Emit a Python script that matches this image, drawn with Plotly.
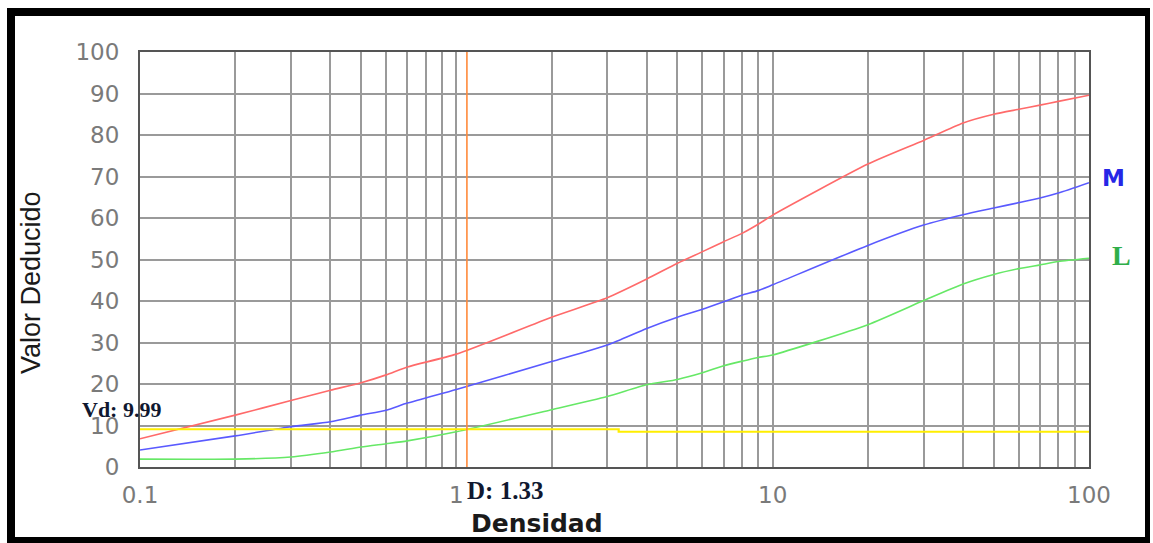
import plotly.graph_objects as go

# ---- data ----
densidad = [0.1, 0.2, 0.3, 0.4, 0.5, 0.6, 0.7, 1, 2, 3, 4, 5, 6, 7, 8, 9, 10,
            20, 30, 40, 50, 60, 70, 80, 100]
high_H = [6.8, 12.5, 16.0, 18.5, 20.3, 22.2, 24.1, 27.2, 36.1, 40.8, 45.3, 49.1,
          51.9, 54.3, 56.3, 58.5, 60.7, 73.0, 78.7, 82.9, 85.0, 86.2, 87.2, 88.1, 89.6]
medium_M = [4.1, 7.5, 9.7, 10.9, 12.5, 13.7, 15.4, 18.7, 25.4, 29.4, 33.4, 36.1,
            38.0, 39.8, 41.4, 42.5, 43.9, 53.4, 58.3, 60.8, 62.4, 63.7, 64.8, 66.0, 68.5]
low_L = [1.9, 1.9, 2.4, 3.6, 4.8, 5.6, 6.3, 8.5, 13.8, 17.0, 19.8, 21.1,
         22.7, 24.4, 25.5, 26.4, 27.0, 34.3, 40.1, 44.1, 46.4, 47.8, 48.7, 49.5, 50.3]

vd_x = [0.1, 3.26, 3.26, 100]
vd_y = [9.1, 9.1, 8.5, 8.5]
d_x = [1.08, 1.08]
d_y = [0, 100]

vd_label = "Vd: 9.99"
d_label = "D: 1.33"

x_major = [0.1, 1, 10, 100]
x_major_text = ["0.1", "1", "10", "100"]
y_ticks = list(range(0, 101, 10))

# ---- layout geometry ----
W, H = 1153, 543
L, R, T, B = 140, 1089, 52, 467


def px(x):
    return (x - L) / (R - L)


def py(y):
    return (B - y) / (B - T)


x_tickvals = []
x_ticktext = []
for dec in [0.1, 1, 10]:
    for k in range(1, 10):
        v = round(dec * k, 6)
        x_tickvals.append(v)
        x_ticktext.append(x_major_text[x_major.index(v)] if v in x_major else "")
x_tickvals.append(100)
x_ticktext.append("100")

fig = go.Figure()
fig.add_trace(go.Scatter(x=densidad, y=high_H, mode="lines",
                         line=dict(color="#ff6a6a", width=1.6, shape="spline", smoothing=0.6),
                         name="H"))
fig.add_trace(go.Scatter(x=densidad, y=medium_M, mode="lines",
                         line=dict(color="#5a5aff", width=1.6, shape="spline", smoothing=0.6),
                         name="M"))
fig.add_trace(go.Scatter(x=densidad, y=low_L, mode="lines",
                         line=dict(color="#66e866", width=1.6, shape="spline", smoothing=0.6),
                         name="L"))
fig.add_trace(go.Scatter(x=vd_x, y=vd_y, mode="lines",
                         line=dict(color="#ffee00", width=2.2), name="Vd"))
fig.add_trace(go.Scatter(x=d_x, y=d_y, mode="lines",
                         line=dict(color="#ff8a3a", width=1.6), name="D"))

fig.update_xaxes(type="log", range=[-1, 2], tickvals=x_tickvals, ticktext=x_ticktext,
                 showgrid=True, gridcolor="#9a9a9a", gridwidth=2,
                 showline=True, linecolor="#555555", linewidth=2, mirror=True,
                 ticks="", ticklabelstandoff=6,
                 tickfont=dict(family="DejaVu Sans", size=23, color="#7a7a7a"),
                 zeroline=False)
fig.update_yaxes(range=[0, 100], tickvals=y_ticks,
                 showgrid=True, gridcolor="#9a9a9a", gridwidth=2,
                 showline=True, linecolor="#555555", linewidth=2, mirror=True,
                 ticks="", ticklabelstandoff=14,
                 tickfont=dict(family="DejaVu Sans", size=23, color="#7a7a7a"),
                 zeroline=False)

annotations = [
    dict(text="<b>Densidad</b>", x=px(537), y=py(523), xref="paper", yref="paper",
         showarrow=False, font=dict(family="DejaVu Sans", size=25, color="#1a1a1a"),
         xanchor="center", yanchor="middle"),
    dict(text="Valor Deducido", x=px(31), y=py(283), xref="paper", yref="paper",
         showarrow=False, textangle=-90,
         font=dict(family="Liberation Sans Narrow, Liberation Sans", size=27, color="#1a1a1a"),
         xanchor="center", yanchor="middle"),
    dict(text="<b>" + vd_label + "</b>", x=px(80), y=py(409), xref="paper", yref="paper",
         showarrow=False, font=dict(family="Liberation Serif", size=22, color="#101830"),
         xanchor="left", yanchor="middle"),
    dict(text="<b>" + d_label + "</b>", x=px(465), y=py(490), xref="paper", yref="paper",
         showarrow=False, font=dict(family="Liberation Serif", size=25, color="#101830"),
         xanchor="left", yanchor="middle"),
    dict(text="<b>M</b>", x=px(1100), y=py(178), xref="paper", yref="paper",
         showarrow=False, font=dict(family="DejaVu Sans", size=23, color="#2626e6"),
         xanchor="left", yanchor="middle"),
    dict(text="<b>L</b>", x=px(1110), y=py(255), xref="paper", yref="paper",
         showarrow=False, font=dict(family="Liberation Serif", size=28, color="#2fae4a"),
         xanchor="left", yanchor="middle"),
]

# black picture frame (drawn as filled bands)
frame = [
    (7, 8, 15, 537),      # left
    (7, 8, 1150, 16),     # top
    (1145, 8, 1150, 543), # right
    (7, 537, 1150, 543),  # bottom
]
shapes = [dict(type="rect", xref="paper", yref="paper",
               x0=px(a), x1=px(c), y0=py(b), y1=py(d),
               fillcolor="black", line=dict(width=0), layer="above")
          for a, b, c, d in frame]

fig.update_layout(width=W, height=H, margin=dict(l=L, r=W - R, t=T, b=H - B),
                  paper_bgcolor="white", plot_bgcolor="white", showlegend=False,
                  annotations=annotations, shapes=shapes)

fig.write_html("out.html", config={"displayModeBar": False},
               post_script="document.body.style.margin='0px';document.body.style.overflow='hidden';")
